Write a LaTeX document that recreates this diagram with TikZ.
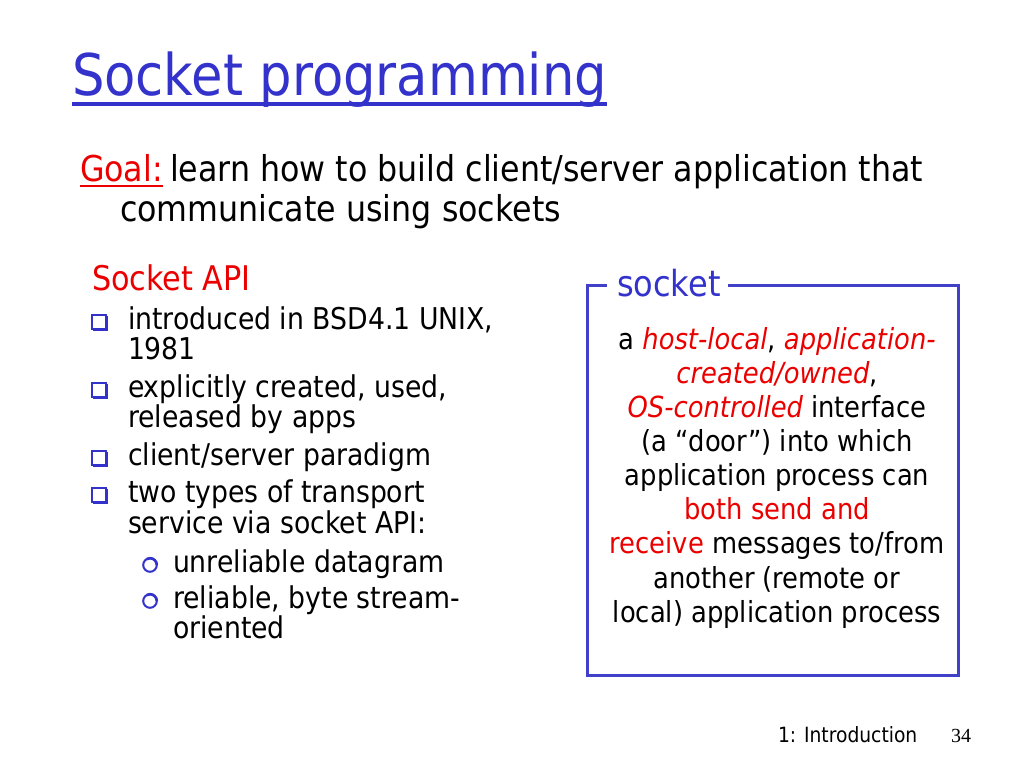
\documentclass[tikz,border=0pt]{standalone}
\usepackage{fontspec}
\setmainfont[FakeStretch=0.89]{DejaVu Sans}
\newfontfamily\pgnumfont{Liberation Serif}
\definecolor{titleblue}{RGB}{51,51,204}
\definecolor{boxblue}{RGB}{64,64,200}
\definecolor{hired}{RGB}{235,0,0}
\newcommand{\hl}[1]{\textcolor{hired}{#1}}
\begin{document}
\begin{tikzpicture}[x=1pt,y=-1pt,
  txt/.style={anchor=base west,inner sep=0pt,outer sep=0pt},
  ctxt/.style={anchor=base,inner sep=0pt,outer sep=0pt,font=\fontsize{29}{34}\selectfont},
  bul/.style={txt,font=\fontsize{30}{34}\selectfont},
  boxline/.style={draw=boxblue,line width=3pt},
  sqbullet/.pic={
    \draw[titleblue,line width=1.3pt] (0,0) rectangle (14,14);
    \draw[titleblue,line width=3pt] (14,0.5) -- (14,14) -- (0.5,14);
  },
  cbullet/.pic={
    \draw[titleblue,line width=2pt] (0,0) circle (6.8);
    \draw[titleblue,line width=2.6pt] (6.8,0) arc (0:-120:6.8);
  }]
\useasboundingbox[fill=white] (0,0) rectangle (1024,768);

% title
\node[txt,font=\fontsize{57.5}{60}\selectfont,text=titleblue] (title) at (72,95) {Socket programming};
\draw[titleblue,line width=4pt] ([yshift=-9pt]title.base west) -- ([yshift=-9pt]title.base east);

% goal
\node[txt,font=\fontsize{35.6}{40}\selectfont,text=hired] (goal) at (80,181) {Goal:};
\draw[hired,line width=2pt] ([yshift=-5pt]goal.base west) -- ([yshift=-5pt]goal.base east);
\node[txt,font=\fontsize{35.6}{40}\selectfont] (goal1) at (170,181) {learn how to build client/server application that};
\node[txt,font=\fontsize{35.6}{40}\selectfont] (goal2) at (120,221) {communicate using sockets};

% socket API
\node[txt,font=\fontsize{34}{38}\selectfont,text=hired] (api) at (92,290) {Socket API};
\pic (b1) at (92,315) {sqbullet};
\node[bul] (l1) at (128,329) {introduced in BSD4.1 UNIX,};
\node[bul] (l2) at (128,359) {1981};
\pic (b2) at (92,383) {sqbullet};
\node[bul] (l3) at (128,397) {explicitly created, used,};
\node[bul] (l4) at (128,427) {released by apps};
\pic (b3) at (92,451) {sqbullet};
\node[bul] (l5) at (128,465) {client/server paradigm};
\pic (b4) at (92,488) {sqbullet};
\node[bul] (l6) at (128,502) {two types of transport};
\node[bul] (l7) at (128,533) {service via socket API:};
\pic (c1) at (150,565) {cbullet};
\node[bul] (l8) at (173,572) {unreliable datagram};
\pic (c2) at (150,601) {cbullet};
\node[bul] (l9) at (173,608) {reliable, byte stream-};
\node[bul] (l10) at (173,638) {oriented};

% socket box
\coordinate (btl) at (587,285);
\coordinate (bbr) at (958,675);
\coordinate (gapL) at (607,285);
\coordinate (gapR) at (728,285);
\draw[boxline] (gapL) -- (btl) |- (bbr) |- (gapR);
\node[txt,font=\fontsize{36}{40}\selectfont,text=titleblue] (sock) at (617,296) {socket};

\node[ctxt] (s1) at (777,349) {a \hl{\itshape host-local}, \hl{\itshape application-}};
\node[ctxt] (s2) at (777,383) {\hl{\itshape created/owned},};
\node[ctxt] (s3) at (777,417) {\hl{\itshape OS-controlled} interface};
\node[ctxt] (s4) at (777,451) {(a “door”) into which};
\node[ctxt] (s5) at (777,485) {application process can};
\node[ctxt] (s6) at (777,519) {\hl{both send and}};
\node[ctxt] (s7) at (777,553) {\hl{receive} messages to/from};
\node[ctxt] (s8) at (777,588) {another (remote or};
\node[ctxt] (s9) at (777,622) {local) application process};

% footer
\node[txt,font=\fontsize{21}{24}\selectfont] (foot) at (778,742) {1: Introduction};
\node[txt,font=\pgnumfont\fontsize{20}{24}\selectfont] (pg) at (951,742) {34};
\end{tikzpicture}
\end{document}
